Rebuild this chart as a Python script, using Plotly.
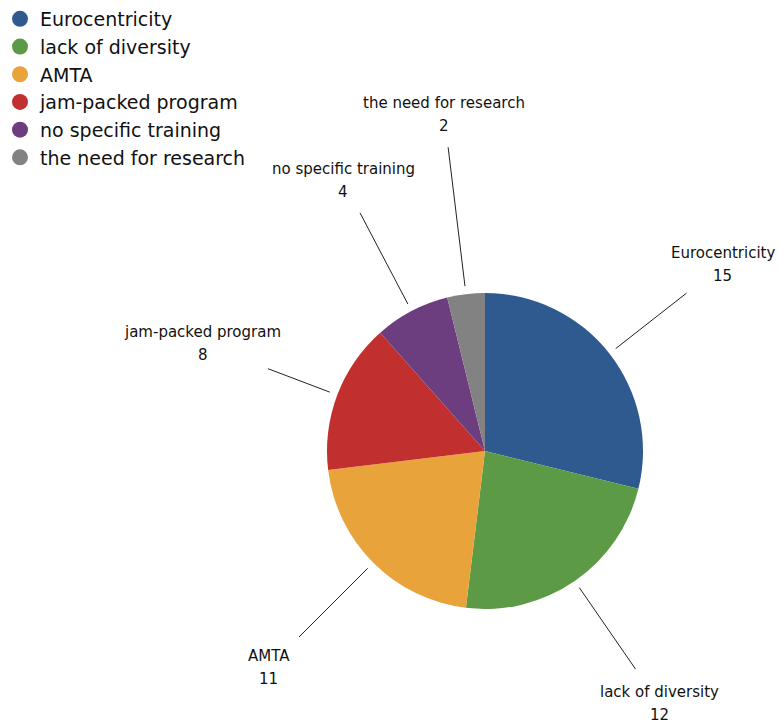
import math
import plotly.graph_objects as go

# Survey answers and their counts
categories = ["Eurocentricity", "lack of diversity", "AMTA",
              "jam-packed program", "no specific training", "the need for research"]
values = [15, 12, 11, 8, 4, 2]
colors = ["#2e5a90", "#5c9a46", "#e8a33b", "#c1302f", "#6c3e80", "#828282"]

# Canvas and pie geometry (pixels)
W, H = 778, 725
CX, CY, R = 485, 451, 158
LEADER_START = 166
leader_end = [256, 265, 263, 232, 269, 306]   # outer end of each leader line
label_radius = [302, 307, 306, 302, 305, 339]  # centre of each outside label
LINE_GAP = 11.5                                # half distance name -> value

FONT = "DejaVu Sans, Verdana, sans-serif"


def to_paper(px, py):
    return px / W, 1 - py / H


fig = go.Figure()

fig.add_trace(go.Pie(
    labels=categories, values=values,
    marker=dict(colors=colors, line=dict(width=0)),
    sort=False, direction="clockwise", rotation=0,
    textinfo="none", showlegend=False,
    hoverinfo="label+value",
    domain=dict(x=[(CX - R) / W, (CX + R) / W],
                y=[1 - (CY + R) / H, 1 - (CY - R) / H]),
))

# legend entries drawn with round markers
for cat, col in zip(categories, colors):
    fig.add_trace(go.Scatter(x=[None], y=[None], mode="markers", name=cat,
                             marker=dict(size=16, color=col, symbol="circle")))

total = sum(values)
cum = 0
shapes, annotations = [], []
label_font = dict(family=FONT, size=15, color="#111111")
for i, (cat, v) in enumerate(zip(categories, values)):
    mid = (cum + v / 2) / total * 2 * math.pi
    cum += v
    dx, dy = math.sin(mid), -math.cos(mid)
    x0, y0 = to_paper(CX + LEADER_START * dx, CY + LEADER_START * dy)
    x1, y1 = to_paper(CX + leader_end[i] * dx, CY + leader_end[i] * dy)
    shapes.append(dict(type="line", xref="paper", yref="paper",
                       x0=x0, y0=y0, x1=x1, y1=y1,
                       line=dict(color="#222222", width=1)))
    lcx = CX + label_radius[i] * dx
    lcy = CY + label_radius[i] * dy
    for txt, off in ((cat, -LINE_GAP), (str(v), LINE_GAP)):
        ax, ay = to_paper(lcx, lcy + off)
        annotations.append(dict(xref="paper", yref="paper", x=ax, y=ay,
                                xanchor="center", yanchor="middle",
                                showarrow=False, text=txt, font=label_font))

fig.update_layout(
    width=W, height=H,
    margin=dict(l=0, r=0, t=0, b=0),
    paper_bgcolor="white", plot_bgcolor="white",
    xaxis=dict(visible=False), yaxis=dict(visible=False),
    showlegend=True,
    legend=dict(x=0, y=1, xanchor="left", yanchor="top",
                bgcolor="rgba(0,0,0,0)",
                font=dict(family=FONT, size=19, color="#111111")),
    shapes=shapes, annotations=annotations,
)

fig.write_html("out.html")
